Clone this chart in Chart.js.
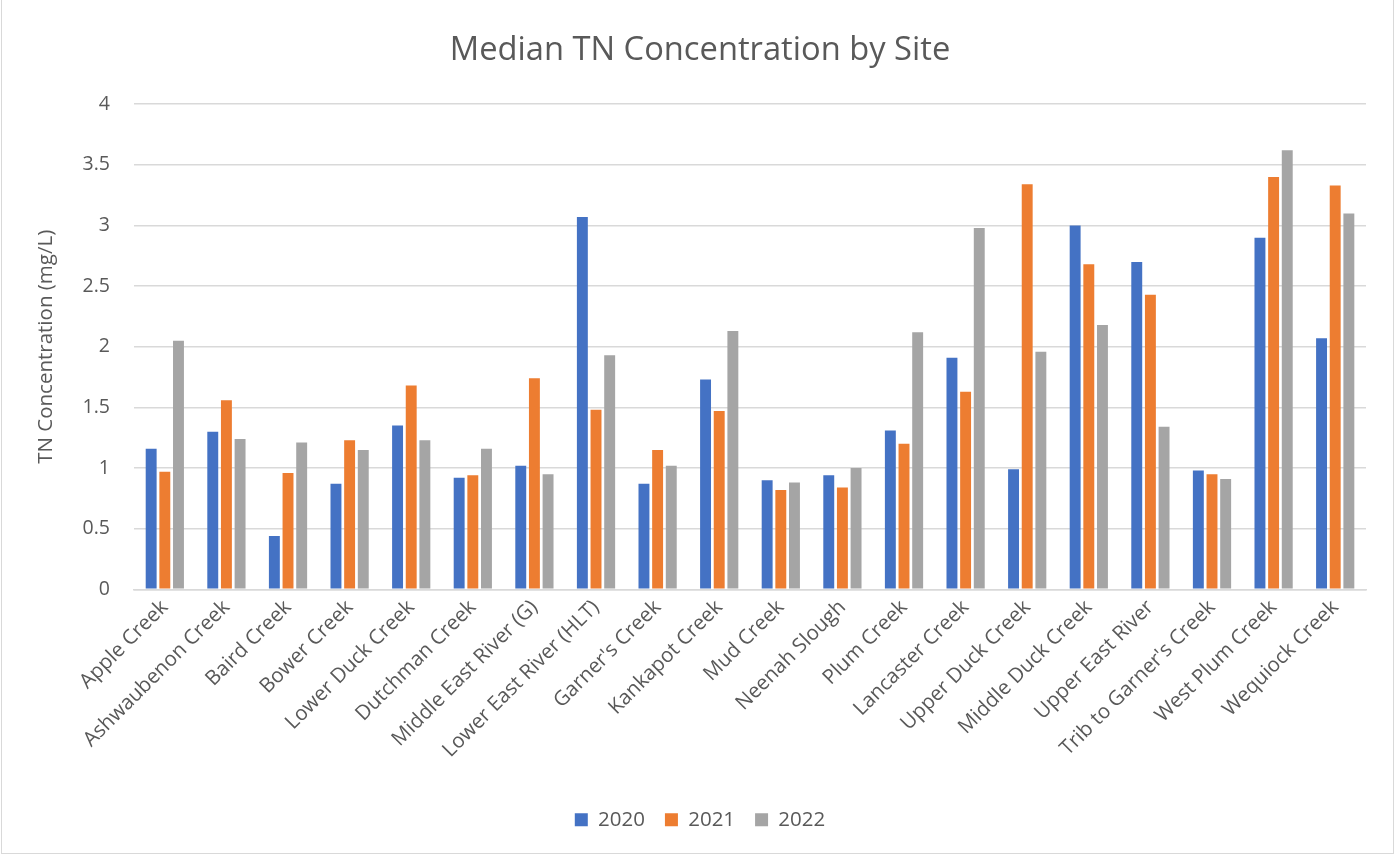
<!DOCTYPE html>
<html>
<head>
<meta charset="utf-8">
<script src="https://cdn.jsdelivr.net/npm/chart.js@4"></script>
<style>
  html, body { margin: 0; padding: 0; background: #ffffff; }
  #wrap { position: absolute; left: 1px; top: 0; width: 1393px; height: 854px; box-sizing: border-box; border: 1px solid #d9d9d9; border-top: none; background: #fff; }
  canvas { display: block; }
</style>
</head>
<body>
<div id="wrap"><canvas id="c" width="1391" height="854"></canvas></div>
<script>
const categories = ["Apple Creek", "Ashwaubenon Creek", "Baird Creek", "Bower Creek", "Lower Duck Creek",
  "Dutchman Creek", "Middle East River (G)", "Lower East River (HLT)", "Garner's Creek", "Kankapot Creek",
  "Mud Creek", "Neenah Slough", "Plum Creek", "Lancaster Creek", "Upper Duck Creek",
  "Middle Duck Creek", "Upper East River", "Trib to Garner's Creek", "West Plum Creek", "Wequiock Creek"];
const seriesNames = ["2020", "2021", "2022"];
const values2020 = [1.16, 1.30, 0.44, 0.87, 1.35, 0.92, 1.02, 3.07, 0.87, 1.73, 0.90, 0.94, 1.31, 1.91, 0.99, 3.00, 2.70, 0.98, 2.90, 2.07];
const values2021 = [0.97, 1.56, 0.96, 1.23, 1.68, 0.94, 1.74, 1.48, 1.15, 1.47, 0.82, 0.84, 1.20, 1.63, 3.34, 2.68, 2.43, 0.95, 3.40, 3.33];
const values2022 = [2.05, 1.24, 1.21, 1.15, 1.23, 1.16, 0.95, 1.93, 1.02, 2.13, 0.88, 1.00, 2.12, 2.98, 1.96, 2.18, 1.34, 0.91, 3.62, 3.10];
const yTicks = [0, 0.5, 1, 1.5, 2, 2.5, 3, 3.5, 4];

const colors = ["#4472c4", "#ed7d31", "#a5a5a5"];
const textColor = "#595959";
const gridColor = "#d9d9d9";
const fontFamily = "'Open Sans', 'Noto Sans', sans-serif";

const allValues = [values2020, values2021, values2022];
const datasets = seriesNames.map((name, i) => ({
  label: name,
  data: allValues[i],
  backgroundColor: colors[i],
  borderWidth: 0,
  categoryPercentage: 0.665,
  barPercentage: 0.8
}));

new Chart(document.getElementById("c"), {
  type: "bar",
  data: { labels: categories, datasets: datasets },
  options: {
    responsive: false,
    animation: false,
    layout: { padding: { left: 32, right: 27, top: 22, bottom: 14 } },
    plugins: {
      title: {
        display: true,
        text: "Median TN Concentration by Site",
        color: textColor,
        font: { family: fontFamily, size: 32.7, weight: "normal" },
        padding: { top: 9, bottom: 34 }
      },
      legend: {
        position: "bottom",
        labels: {
          color: textColor,
          font: { family: fontFamily, size: 20.5 },
          boxWidth: 13,
          boxHeight: 13,
          padding: 20
        }
      },
      tooltip: { enabled: false }
    },
    scales: {
      x: {
        afterFit: (scale) => { scale.height += 21; },
        grid: { display: false, drawTicks: false },
        border: { display: true, color: gridColor, width: 1.5 },
        ticks: {
          color: textColor,
          font: { family: fontFamily, size: 20.5 },
          maxRotation: 45,
          minRotation: 45,
          autoSkip: false,
          padding: 6
        }
      },
      y: {
        min: 0,
        max: 4,
        afterBuildTicks: (axis) => { axis.ticks = yTicks.map(v => ({ value: v })); },
        grid: { color: gridColor, lineWidth: 1.5, drawTicks: false },
        border: { display: false },
        ticks: {
          color: textColor,
          font: { family: fontFamily, size: 19.5 },
          padding: 24,
          callback: (v) => String(v)
        },
        title: {
          display: true,
          text: "TN Concentration (mg/L)",
          color: textColor,
          font: { family: fontFamily, size: 20.5 },
          padding: { top: 0, bottom: 0 }
        }
      }
    }
  }
});
</script>
</body>
</html>
